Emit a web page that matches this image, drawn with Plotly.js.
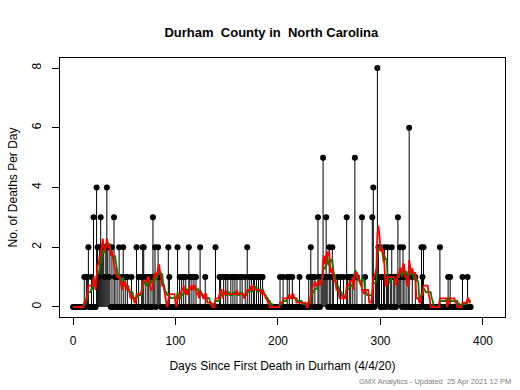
<!DOCTYPE html>
<html>
<head>
<meta charset="utf-8">
<script src="https://cdn.plot.ly/plotly-3.0.1.min.js"></script>
<style>html,body{margin:0;padding:0;background:#fff;}#chart{width:520px;height:390px;}</style>
</head>
<body>
<div id="chart"></div>
<script>
// Daily deaths, day 0 = 4/4/20
const deaths = [
  0,0,0,0,0,0,0,0,0,0,
  0,1,0,1,1,2,0,0,1,0,
  3,0,0,4,2,1,2,3,2,2,
  2,1,2,4,2,1,2,0,2,0,
  3,1,0,1,0,2,0,1,0,2,
  0,1,0,1,0,0,0,1,0,0,
  0,0,2,0,1,0,0,1,2,2,
  0,1,0,1,1,0,1,0,3,1,
  2,0,1,2,1,1,0,0,0,0,
  0,0,0,2,1,0,0,0,0,0,
  0,0,2,0,1,0,1,0,1,0,
  1,0,0,2,1,0,1,0,1,0,
  1,0,0,0,2,0,0,0,0,1,
  0,0,0,0,0,0,0,0,0,2,
  0,0,0,1,1,0,0,1,0,1,
  0,1,0,0,1,0,1,0,1,0,
  1,0,0,1,0,1,0,0,1,0,
  2,0,1,0,1,0,1,1,0,1,
  0,1,0,1,0,1,0,0,0,0,
  0,0,0,0,0,0,0,0,0,0,
  0,0,1,0,0,1,0,0,0,1,
  0,1,0,0,1,0,0,0,0,0,
  0,1,0,0,0,0,0,0,0,0,
  1,0,2,1,1,0,1,0,0,3,
  1,0,1,1,5,1,1,3,1,0,
  2,1,0,2,1,0,0,0,1,0,
  0,1,0,0,1,0,0,3,1,0,
  1,1,0,1,0,5,0,1,0,0,
  0,0,3,0,0,1,0,0,0,0,
  0,0,3,4,0,1,1,8,2,1,
  0,1,0,1,2,0,1,2,1,0,
  1,2,0,1,1,0,1,3,1,2,
  1,0,2,1,0,1,0,1,6,0,
  0,1,0,0,1,0,0,0,0,0,
  2,1,2,0,0,0,0,0,0,0,
  0,0,0,0,0,0,0,0,2,0,
  0,0,0,0,0,0,1,0,1,0,
  0,0,0,0,0,0,0,0,0,0,
  1,0,0,0,0,1,0,0,0
];
const xTicks = [0, 100, 200, 300, 400];
const yTicks = [0, 2, 4, 6, 8];
const titleText = "Durham  County in  North Carolina";
const xTitle = "Days Since First Death in Durham (4/4/20)";
const yTitle = "No. of Deaths Per Day";
const footer = "GMX Analytics - Updated  25 Apr 2021 12 PM";

const days = deaths.map((_, i) => i);
function trailingMean(arr, w) {
  return arr.map((_, i) => {
    const s = Math.max(0, i - w + 1);
    let sum = 0;
    for (let j = s; j <= i; j++) sum += arr[j];
    return sum / (i - s + 1);
  });
}
const ma7 = trailingMean(deaths, 7);
const ma10 = trailingMean(deaths, 10);

const font = "Liberation Sans, Arial, sans-serif";
const traces = [
  {
    x: days, y: deaths, type: 'scatter', mode: 'markers',
    marker: {color: '#000', size: 6},
    error_y: {type: 'data', symmetric: false, array: deaths.map(() => 0), arrayminus: deaths,
              color: '#000', thickness: 1, width: 0},
    hoverinfo: 'x+y', showlegend: false
  },
  {x: days, y: ma10, type: 'scatter', mode: 'lines', line: {color: '#008000', width: 1.8}, showlegend: false},
  {x: days, y: ma7, type: 'scatter', mode: 'lines', line: {color: '#ff0000', width: 1.8}, showlegend: false}
];

const layout = {
  width: 520, height: 390,
  margin: {l: 60, r: 15, t: 58, b: 73},
  paper_bgcolor: '#fff', plot_bgcolor: '#fff',
  font: {family: font, size: 12, color: '#000'},
  title: {text: titleText, font: {family: font, size: 13, weight: 'bold', color: '#000'},
          xref: 'paper', x: 0.475, xanchor: 'center', yref: 'container', y: 1 - 32/390, yanchor: 'middle'},
  xaxis: {
    range: [-12.7, 421.5], tickvals: xTicks, ticktext: xTicks.map(String),
    showgrid: false, zeroline: false, showline: true, mirror: true, linecolor: '#000', linewidth: 1,
    ticks: 'outside', ticklen: 7, tickcolor: '#000', tickwidth: 1,
    ticklabelstandoff: 6,
    tickfont: {family: font, size: 12, color: '#000'},
    title: {text: xTitle, font: {family: font, size: 12, color: '#000'}, standoff: 14}
  },
  yaxis: {
    range: [-0.335, 8.335], tickvals: yTicks, ticktext: yTicks.map(String),
    showgrid: false, zeroline: false, showline: true, mirror: true, linecolor: '#000', linewidth: 1,
    ticks: 'outside', ticklen: 7, tickcolor: '#000', tickwidth: 1,
    tickangle: -90, ticklabelstandoff: 6,
    tickfont: {family: font, size: 12, color: '#000'},
    title: {text: yTitle, font: {family: font, size: 12, color: '#000'}, standoff: 10}
  },
  annotations: [
    {text: footer, xref: 'paper', yref: 'paper', x: (513 - 60) / 445, y: (317 - 381) / 259,
     xanchor: 'right', yanchor: 'middle', showarrow: false,
     font: {family: font, size: 7.5, color: '#808080'}}
  ]
};

Plotly.newPlot('chart', traces, layout, {staticPlot: true, displayModeBar: false});
</script>
</body>
</html>
